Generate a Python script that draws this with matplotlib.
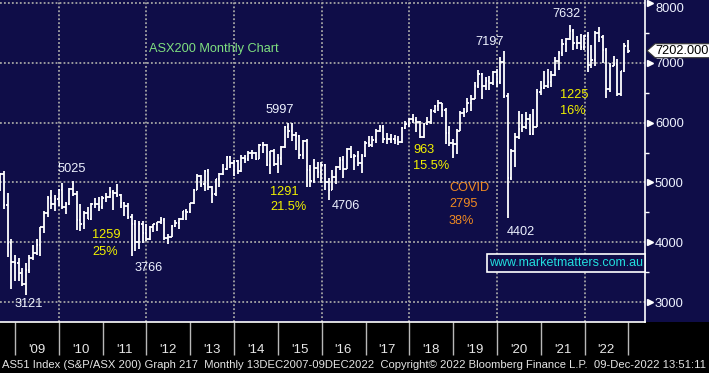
import numpy as np
import pandas as pd
import matplotlib
matplotlib.use('Agg')
import matplotlib.pyplot as plt
import matplotlib.dates as mdates
import matplotlib.transforms as mtransforms
from matplotlib.patches import Rectangle, Polygon

plt.rcParams['font.family'] = ['Liberation Sans', 'DejaVu Sans']

# ASX200 monthly bars, Aug 2008 .. Dec 2022
first_month_end = '2008-08-31'

opens = [
    4980, 5135, 4631, 3983, 3672,
    3659, 3478, 3296, 3532, 3745, 3813, 3947, 4249, 4484, 4743, 4646, 4715,
    4871, 4596, 4632, 4893, 4808, 4367, 4301, 4493, 4391, 4639, 4634, 4584,
    4745, 4753, 4848, 4829, 4789, 4654, 4608, 4418, 4297, 4008, 4298, 4151,
    4057, 4263, 4300, 4335, 4376, 4077, 4095, 4278, 4316, 4387, 4517, 4506,
    4649, 4879, 5104, 4967, 5191, 4926, 4803, 5052, 5135, 5218, 5425, 5320,
    5352, 5190, 5405, 5395, 5489, 5493, 5396, 5623, 5625, 5292, 5526, 5313,
    5411, 5588, 5929, 5861, 5790, 5777, 5459, 5699, 5207, 5022, 5239, 5167,
    5296, 5005, 4881, 5083, 5252, 5378, 5233, 5562, 5433, 5436, 5317, 5440,
    5666, 5621, 5712, 5865, 5924, 5724, 5721, 5720, 5715, 5682, 5909, 5969,
    6065, 6037, 6016, 5759, 5982, 6012, 6195, 6281, 6320, 6208, 5830, 5667,
    5646, 5865, 6169, 6181, 6325, 6397, 6619, 6813, 6604, 6688, 6663, 6846,
    6684, 7017, 6441, 5077, 5522, 5755, 5898, 5928, 6061, 5816, 5928, 6518,
    6587, 6607, 6673, 6791, 7025, 7162, 7313, 7393, 7535, 7332, 7324, 7256,
    7445, 6971, 7049, 7500, 7435, 7211, 6568, 6945, 6986, 6474, 6863, 7284,
]
highs = [
    5150, 5190, 4830, 4050, 3780,
    3735, 3570, 3650, 3785, 3960, 4050, 4260, 4520, 4780, 4880, 4790, 4890,
    4985, 4670, 4900, 5025, 4860, 4640, 4520, 4590, 4660, 4740, 4760, 4780,
    4830, 4930, 4880, 4980, 4810, 4670, 4650, 4480, 4370, 4360, 4360, 4300,
    4270, 4310, 4340, 4420, 4400, 4130, 4290, 4380, 4400, 4530, 4550, 4660,
    4890, 5140, 5130, 5200, 5220, 4940, 5060, 5160, 5300, 5440, 5450, 5370,
    5380, 5460, 5460, 5530, 5550, 5510, 5640, 5680, 5640, 5530, 5560, 5480,
    5610, 5940, 5990, 5997, 5850, 5800, 5710, 5720, 5290, 5400, 5350, 5350,
    5300, 5080, 5200, 5270, 5430, 5440, 5570, 5610, 5480, 5530, 5480, 5700,
    5770, 5770, 5900, 5960, 5960, 5830, 5810, 5800, 5780, 5920, 6030, 6080,
    6150, 6090, 6030, 6000, 6100, 6220, 6290, 6374, 6330, 6250, 5940, 5720,
    5890, 6200, 6250, 6420, 6470, 6680, 6880, 6830, 6770, 6780, 6860, 6890,
    7090, 7197, 6500, 5560, 5830, 6200, 6150, 6180, 6140, 6230, 6560, 6700,
    6860, 6890, 6860, 7090, 7200, 7400, 7420, 7632, 7560, 7440, 7480, 7460,
    7520, 7300, 7530, 7600, 7470, 7250, 6990, 7120, 7070, 6870, 7330, 7380,
]
lows = [
    4850, 4550, 3750, 3220, 3351,
    3350, 3270, 3121, 3485, 3700, 3780, 3775, 4150, 4430, 4550, 4530, 4610,
    4560, 4470, 4620, 4780, 4200, 4180, 4230, 4390, 4380, 4570, 4530, 4560,
    4680, 4740, 4540, 4750, 4580, 4440, 4390, 3766, 3850, 3880, 3990, 4020,
    4040, 4170, 4190, 4300, 4030, 3970, 4080, 4260, 4230, 4370, 4370, 4490,
    4640, 4870, 4930, 4860, 4880, 4660, 4770, 4930, 5120, 5210, 5240, 5100,
    5140, 5170, 5330, 5360, 5400, 5370, 5390, 5500, 5270, 5140, 5280, 5160,
    5290, 5580, 5740, 5700, 5550, 5400, 5390, 4920, 4920, 4990, 5080, 4990,
    4870, 4706, 4870, 4980, 5200, 5070, 5230, 5410, 5200, 5270, 5150, 5430,
    5600, 5590, 5660, 5850, 5660, 5640, 5660, 5650, 5630, 5660, 5900, 5920,
    6000, 5840, 5750, 5740, 5960, 5980, 6160, 6200, 6100, 5650, 5610, 5410,
    5470, 5860, 6090, 6180, 6190, 6390, 6580, 6400, 6540, 6540, 6630, 6600,
    6650, 6420, 4402, 5040, 5250, 5720, 5850, 5900, 5800, 5800, 5920, 6460,
    6560, 6580, 6590, 6780, 6880, 7120, 7180, 7380, 7220, 7230, 7220, 7210,
    6840, 6920, 6950, 7340, 6990, 6410, 6520, 6940, 6450, 6450, 6850, 7170,
]
closes = [
    5135, 4631, 3983, 3672, 3659,
    3478, 3296, 3532, 3745, 3813, 3947, 4249, 4484, 4743, 4646, 4715, 4871,
    4596, 4632, 4893, 4808, 4367, 4301, 4493, 4391, 4639, 4634, 4584, 4745,
    4753, 4848, 4829, 4789, 4654, 4608, 4418, 4297, 4008, 4298, 4151, 4057,
    4263, 4300, 4335, 4376, 4077, 4095, 4278, 4316, 4387, 4517, 4506, 4649,
    4879, 5104, 4967, 5191, 4926, 4803, 5052, 5135, 5218, 5425, 5320, 5352,
    5190, 5405, 5395, 5489, 5493, 5396, 5623, 5625, 5292, 5526, 5313, 5411,
    5588, 5929, 5861, 5790, 5777, 5459, 5699, 5207, 5022, 5239, 5167, 5296,
    5005, 4881, 5083, 5252, 5378, 5233, 5562, 5433, 5436, 5317, 5440, 5666,
    5621, 5712, 5865, 5924, 5724, 5721, 5720, 5715, 5682, 5909, 5969, 6065,
    6037, 6016, 5759, 5982, 6012, 6195, 6281, 6320, 6208, 5830, 5667, 5646,
    5865, 6169, 6181, 6325, 6397, 6619, 6813, 6604, 6688, 6663, 6846, 6684,
    7017, 6441, 5077, 5522, 5755, 5898, 5928, 6061, 5816, 5928, 6518, 6587,
    6607, 6673, 6791, 7025, 7162, 7313, 7393, 7535, 7332, 7324, 7256, 7445,
    6971, 7049, 7500, 7435, 7211, 6568, 6945, 6986, 6474, 6863, 7284, 7202,
]

year_labels = ["'09", "'10", "'11", "'12", "'13", "'14", "'15",
               "'16", "'17", "'18", "'19", "'20", "'21", "'22"]
y_ticks = [3000, 4000, 5000, 6000, 7000, 8000]
y_minor = [3500, 4500, 5500, 6500, 7500]

# (text, left px, centre px, colour)
notes = [
    ("5025", 58, 169, 'white'), ("5997", 266, 110, 'white'),
    ("7197", 475, 42, 'white'), ("7632", 552, 14, 'white'),
    ("3121", 15, 304, 'white'), ("3766", 135, 268, 'white'),
    ("4706", 332, 206, 'white'), ("4402", 507, 232, 'white'),
    ("1259", 92, 235, 'yellow'), ("25%", 92, 252, 'yellow'),
    ("1291", 270, 192, 'yellow'), ("21.5%", 270, 207, 'yellow'),
    ("963", 413, 150, 'yellow'), ("15.5%", 413, 166, 'yellow'),
    ("1225", 560, 95, 'yellow'), ("16%", 560, 111, 'yellow'),
    ("COVID", 449, 188, 'orange'), ("2795", 449, 204, 'orange'),
    ("38%", 449, 221, 'orange'),
]
note_colors = {'white': '#eef2ff', 'yellow': '#f2f200', 'orange': '#f08a22'}

footer = ("AS51 Index (S&P/ASX 200) Graph 217  Monthly 13DEC2007-09DEC2022  "
          "Copyright\u00a9 2022 Bloomberg Finance L.P.  09-Dec-2022 13:51:11")

navy = '#0f0d48'
W, H = 709, 373
ax_w, ax_h = 645, 322

dates = pd.date_range(first_month_end, periods=len(closes), freq='ME')
x = mdates.date2num(dates.to_pydatetime())
half = 13  # days

fig = plt.figure(figsize=(W / 100, H / 100), dpi=100)
fig.patch.set_facecolor(navy)
fig.patches.append(Rectangle((0, 0), 1, (H - ax_h) / H, transform=fig.transFigure,
                             facecolor='black', edgecolor='none', zorder=-1))
ax = fig.add_axes([0, (H - ax_h) / H, ax_w / W, ax_h / H])
ax.set_facecolor(navy)

# grid
grid_kw = dict(color='#a4a4a4', lw=1.3, ls=(0, (1, 1.2)), zorder=0)
for v in y_ticks:
    ax.axhline(v, **grid_kw)
for yr in range(2010, 2023, 2):
    ax.axvline(mdates.date2num(pd.Timestamp(f'{yr}-01-01')), **grid_kw)

# OHLC bars
ax.vlines(x, lows, highs, colors='white', lw=1.3, zorder=3)
ax.hlines(opens, x - half, x, colors='white', lw=1.3, zorder=3)
ax.hlines(closes, x, x + half, colors='white', lw=1.3, zorder=3)

ax.set_xlim(mdates.date2num(pd.Timestamp('2008-08-29')),
            mdates.date2num(pd.Timestamp('2023-05-20')))
ax.set_ylim(2667, 8050)

# x axis: year boundaries as ticks, labels mid-year
ax.set_xticks([mdates.date2num(pd.Timestamp(f'{yr}-01-01')) for yr in range(2009, 2024)])
ax.set_xticklabels([])
ax.set_xticks([mdates.date2num(pd.Timestamp(f'{yr}-07-01')) for yr in range(2009, 2023)],
              minor=True)
ax.set_xticklabels(year_labels, minor=True)
ax.tick_params(axis='x', which='major', length=24, width=1, color='#b8b8b8', direction='out')
ax.tick_params(axis='x', which='minor', length=0, pad=16, labelsize=9.5, labelcolor='#e8e8e8')

# right value axis
ax.yaxis.tick_right()
ax.set_yticks(y_ticks)
ax.set_yticklabels([str(v) for v in y_ticks])
ax.set_yticks(y_minor, minor=True)
ax.tick_params(axis='y', which='major', length=0, pad=7.2, labelsize=9.3, labelcolor='#eef2ff')
ax.tick_params(axis='y', which='minor', length=3, width=1, color='white', direction='out')
ax.get_yticklabels()[-1].set_verticalalignment('top')
trans = mtransforms.blended_transform_factory(ax.transAxes, ax.transData)
ax.plot([1 + 5 / ax_w] * len(y_ticks), y_ticks, ls='none', marker='>', ms=4.5,
        color='white', transform=trans, clip_on=False, zorder=5)

for s in ['top', 'left']:
    ax.spines[s].set_visible(False)
for s in ['right', 'bottom']:
    ax.spines[s].set_color('white')
    ax.spines[s].set_linewidth(1.2)

# annotations
ax.text(149 / ax_w, 1 - 49 / ax_h, "ASX200 Monthly Chart", transform=ax.transAxes,
        color='#80e080', fontsize=9.2, ha='left', va='center')
for txt, px, py, c in notes:
    ax.text(px / ax_w, 1 - py / ax_h, txt, transform=ax.transAxes,
            color=note_colors[c], fontsize=9.2, ha='left', va='center', zorder=6)

# website box
ax.add_patch(Rectangle((487 / ax_w, 1 - 272 / ax_h), 158 / ax_w, 18 / ax_h,
                       transform=ax.transAxes, facecolor=navy, edgecolor='white',
                       lw=1.2, zorder=6, clip_on=False))
ax.text(566 / ax_w, 1 - 263 / ax_h, "www.marketmatters.com.au", transform=ax.transAxes,
        color='#22dede', fontsize=9.0, ha='center', va='center', zorder=7)

# last price tag
last = closes[-1]
hh = 117
tag = Polygon([(1 + 2 / ax_w, last), (1 + 10 / ax_w, last + hh), (1 + 70 / ax_w, last + hh),
               (1 + 70 / ax_w, last - hh), (1 + 10 / ax_w, last - hh)],
              closed=True, transform=trans, facecolor='white', edgecolor='#333333',
              lw=0.8, clip_on=False, zorder=8)
ax.add_patch(tag)
ax.text(1 + 10 / ax_w, last, f"{last:.3f}", transform=trans, color='black',
        fontsize=9.2, ha='left', va='center', zorder=9, clip_on=False)

fig.text(2 / W, 1 - 365 / H, footer, color='#e4e4e4', fontsize=8.15, ha='left', va='center')

fig.savefig('out.png', dpi=100, facecolor=fig.get_facecolor())
